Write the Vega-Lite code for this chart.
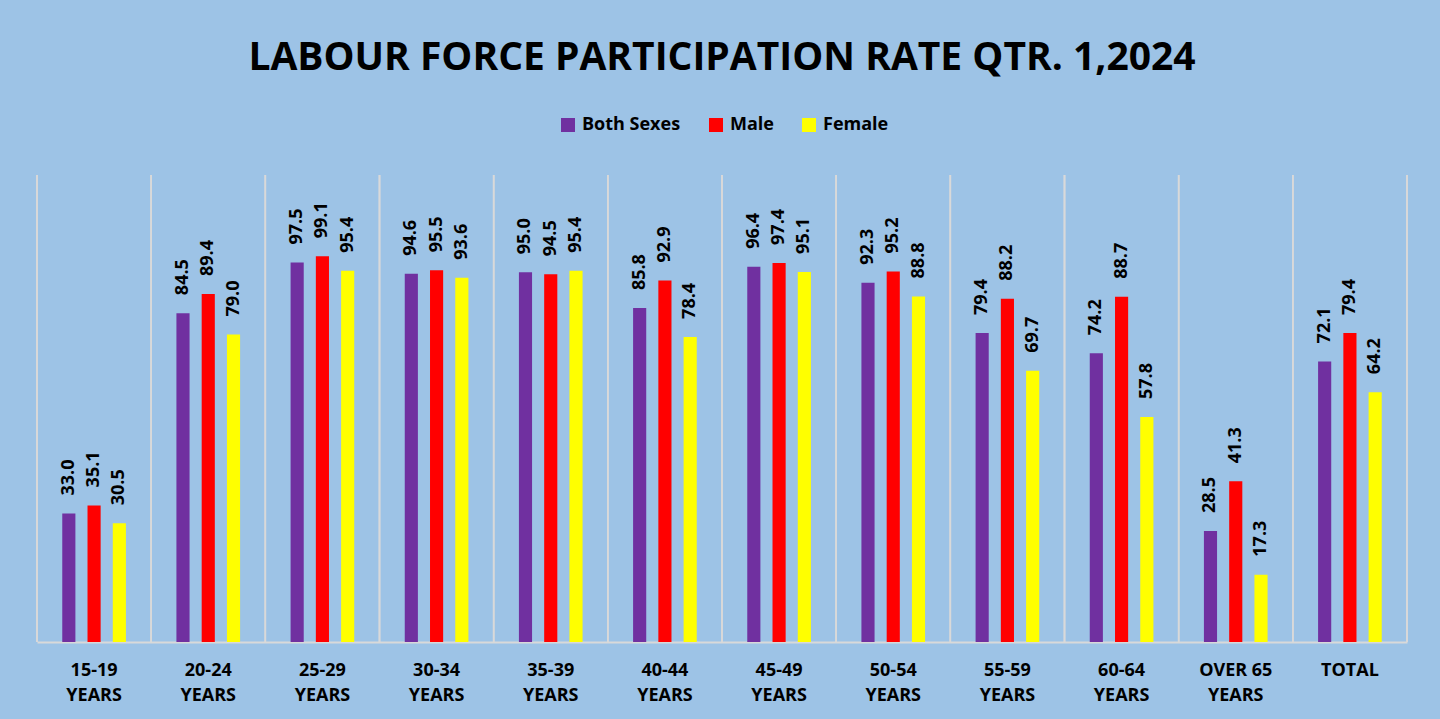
{
  "$schema": "https://vega.github.io/schema/vega-lite/v6.json",
  "width": 1370,
  "height": 467,
  "autosize": {"type": "none"},
  "padding": {"left": 37, "top": 175, "right": 33, "bottom": 77},
  "background": "#9DC3E6",
  "title": {
    "text": "LABOUR FORCE PARTICIPATION RATE QTR. 1,2024",
    "font": "Open Sans",
    "fontSize": 39,
    "fontWeight": "bold",
    "color": "#000000",
    "anchor": "middle",
    "frame": "group",
    "offset": 38
  },
  "config": {
    "view": {"stroke": null},
    "font": "Open Sans"
  },
  "data": {
    "values": [
      {"group": "15-19 YEARS", "sex": "Both Sexes", "rate": 33.0},
      {"group": "15-19 YEARS", "sex": "Male", "rate": 35.1},
      {"group": "15-19 YEARS", "sex": "Female", "rate": 30.5},
      {"group": "20-24 YEARS", "sex": "Both Sexes", "rate": 84.5},
      {"group": "20-24 YEARS", "sex": "Male", "rate": 89.4},
      {"group": "20-24 YEARS", "sex": "Female", "rate": 79.0},
      {"group": "25-29 YEARS", "sex": "Both Sexes", "rate": 97.5},
      {"group": "25-29 YEARS", "sex": "Male", "rate": 99.1},
      {"group": "25-29 YEARS", "sex": "Female", "rate": 95.4},
      {"group": "30-34 YEARS", "sex": "Both Sexes", "rate": 94.6},
      {"group": "30-34 YEARS", "sex": "Male", "rate": 95.5},
      {"group": "30-34 YEARS", "sex": "Female", "rate": 93.6},
      {"group": "35-39 YEARS", "sex": "Both Sexes", "rate": 95.0},
      {"group": "35-39 YEARS", "sex": "Male", "rate": 94.5},
      {"group": "35-39 YEARS", "sex": "Female", "rate": 95.4},
      {"group": "40-44 YEARS", "sex": "Both Sexes", "rate": 85.8},
      {"group": "40-44 YEARS", "sex": "Male", "rate": 92.9},
      {"group": "40-44 YEARS", "sex": "Female", "rate": 78.4},
      {"group": "45-49 YEARS", "sex": "Both Sexes", "rate": 96.4},
      {"group": "45-49 YEARS", "sex": "Male", "rate": 97.4},
      {"group": "45-49 YEARS", "sex": "Female", "rate": 95.1},
      {"group": "50-54 YEARS", "sex": "Both Sexes", "rate": 92.3},
      {"group": "50-54 YEARS", "sex": "Male", "rate": 95.2},
      {"group": "50-54 YEARS", "sex": "Female", "rate": 88.8},
      {"group": "55-59 YEARS", "sex": "Both Sexes", "rate": 79.4},
      {"group": "55-59 YEARS", "sex": "Male", "rate": 88.2},
      {"group": "55-59 YEARS", "sex": "Female", "rate": 69.7},
      {"group": "60-64 YEARS", "sex": "Both Sexes", "rate": 74.2},
      {"group": "60-64 YEARS", "sex": "Male", "rate": 88.7},
      {"group": "60-64 YEARS", "sex": "Female", "rate": 57.8},
      {"group": "OVER 65 YEARS", "sex": "Both Sexes", "rate": 28.5},
      {"group": "OVER 65 YEARS", "sex": "Male", "rate": 41.3},
      {"group": "OVER 65 YEARS", "sex": "Female", "rate": 17.3},
      {"group": "TOTAL", "sex": "Both Sexes", "rate": 72.1},
      {"group": "TOTAL", "sex": "Male", "rate": 79.4},
      {"group": "TOTAL", "sex": "Female", "rate": 64.2}
    ]
  },
  "encoding": {
    "x": {
      "field": "group",
      "type": "nominal",
      "sort": null,
      "scale": {"paddingInner": 0, "paddingOuter": 0},
      "axis": {
        "title": null,
        "labelAngle": 0,
        "labelFont": "Open Sans",
        "labelFontSize": 18,
        "labelFontWeight": "bold",
        "labelColor": "#000000",
        "labelPadding": 19,
        "labelLineHeight": 25,
        "labelBaseline": "top",
        "labelExpr": "datum.label == 'TOTAL' ? 'TOTAL' : [replace(datum.label, ' YEARS', ''), 'YEARS']",
        "ticks": false,
        "grid": false,
        "domainColor": "#D9D9D9",
        "domainWidth": 2
      }
    },
    "xOffset": {
      "field": "sex",
      "type": "nominal",
      "sort": ["Both Sexes", "Male", "Female"],
      "scale": {"paddingInner": 0.48, "paddingOuter": 1.1}
    },
    "y": {
      "field": "rate",
      "type": "quantitative",
      "scale": {"domain": [0, 120]},
      "axis": null
    }
  },
  "layer": [
    {
      "mark": {"type": "rule", "color": "#D9D9D9", "strokeWidth": 1.5},
      "encoding": {
        "x": {"field": "group", "type": "nominal", "sort": null, "bandPosition": 0},
        "xOffset": null,
        "y": null
      }
    },
    {
      "mark": {"type": "rule", "color": "#D9D9D9", "strokeWidth": 1.5},
      "encoding": {
        "x": {"datum": "TOTAL", "type": "nominal", "bandPosition": 1},
        "xOffset": null,
        "y": null
      }
    },
    {
      "mark": {"type": "bar"},
      "encoding": {
        "color": {
          "field": "sex",
          "type": "nominal",
          "sort": ["Both Sexes", "Male", "Female"],
          "scale": {
            "domain": ["Both Sexes", "Male", "Female"],
            "range": ["#7030A0", "#FF0000", "#FFFF00"]
          },
          "legend": {
            "title": null,
            "orient": "none",
            "direction": "horizontal",
            "legendX": 522,
            "legendY": -59,
            "symbolType": "square",
            "symbolSize": 196,
            "symbolStrokeWidth": 0,
            "labelFont": "Open Sans",
            "labelFontSize": 18,
            "labelFontWeight": "bold",
            "labelColor": "#000000",
            "labelOffset": 5,
            "columnPadding": 26
          }
        }
      }
    },
    {
      "mark": {
        "type": "text",
        "angle": 270,
        "align": "left",
        "baseline": "middle",
        "dx": 18,
        "font": "Open Sans",
        "fontSize": 18,
        "fontWeight": "bold",
        "color": "#000000"
      },
      "encoding": {
        "text": {"field": "rate", "type": "quantitative", "format": ".1f"}
      }
    }
  ]
}
